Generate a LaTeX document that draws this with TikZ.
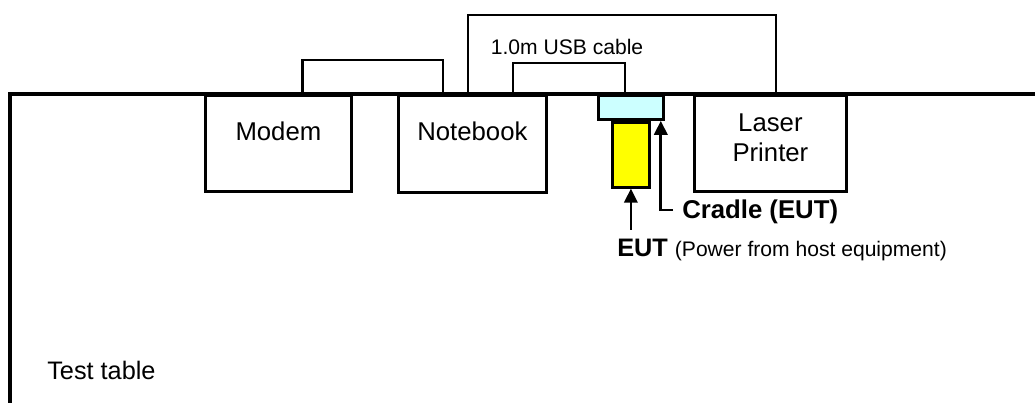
\documentclass[tikz,border=0pt]{standalone}
\usepackage{fontspec}
\setmainfont{Liberation Sans}
\usetikzlibrary{arrows.meta,positioning,calc}
\definecolor{CradleCyan}{RGB}{204,255,255}
\definecolor{EutYellow}{RGB}{255,255,0}
\tikzset{
  devbox/.style={draw=black,line width=0.7mm,fill=white,inner sep=0pt,
    align=center,font=\fontsize{18.3}{21.5}\selectfont},
  tabletop/.style={draw=black,line width=1mm},
  cablewire/.style={draw=black,line width=0.7mm},
  pointer/.style={-{Triangle[length=3.5mm,width=3.3mm]},line width=0.7mm,draw=black},
  notetext/.style={inner sep=0pt,font=\fontsize{18}{21}\selectfont},
}
\begin{document}
\begin{tikzpicture}[x=0.25mm,y=-0.25mm]
  \useasboundingbox (0,0) rectangle (1035,403);
  % table
  \coordinate (tablefoot) at (10,403);
  \coordinate (tableend) at (1035,94);
  \draw[tabletop] (tablefoot) |- (tableend);
  \node[notetext,anchor=west] (tablename) at (47,370) {Test table};
  % equipment on the table
  \node[devbox,anchor=north west,minimum width=36.5mm,text height=11.25mm,text depth=12.75mm] (modem) at (204,94) {Modem};
  \node[devbox,anchor=north west,minimum width=37mm,text height=11.25mm,text depth=13mm] (notebook) at (397,94) {Notebook};
  \node[devbox,anchor=north west,text width=38mm,text height=9mm,text depth=15mm] (printer) at (693,94) {Laser\\Printer};
  \node[devbox,anchor=north west,minimum width=16.25mm,minimum height=6mm,fill=CradleCyan] (cradle) at (597,94) {};
  \node[devbox,below=0pt of cradle,minimum width=9.25mm,minimum height=16.25mm,fill=EutYellow] (eut) {};
  % cables
  \draw[cablewire] ($(modem.north east)+(-50,0)$) -- ++(0,-34) -| ($(notebook.north west)+(46,0)$);
  \draw[cablewire] ($(notebook.north west)+(71,0)$) -- ++(0,-79) -| ($(printer.north west)+(83,0)$);
  \draw[cablewire] ($(notebook.north west)+(116,0)$) -- ++(0,-31) -| ($(cradle.north west)+(28,0)$);
  \node[notetext,font=\fontsize{15}{18}\selectfont] (usblabel) at (567,47) {1.0m USB cable};
  % labels
  \node[notetext,anchor=west,font=\fontsize{18.3}{21}\selectfont\bfseries] (cradlenote) at (682,212) {Cradle (EUT)};
  \node[notetext,anchor=base west] (eutnote) at (617,257) {\textbf{EUT} {\fontsize{15}{18}\selectfont(Power from host equipment)}};
  \draw[pointer] ($(cradlenote.west)+(-9,-2)$) -| ($(cradle.south east)+(-4,0)$);
  \draw[pointer] (eut.south |- 0,230) -- (eut.south);
\end{tikzpicture}
\end{document}
